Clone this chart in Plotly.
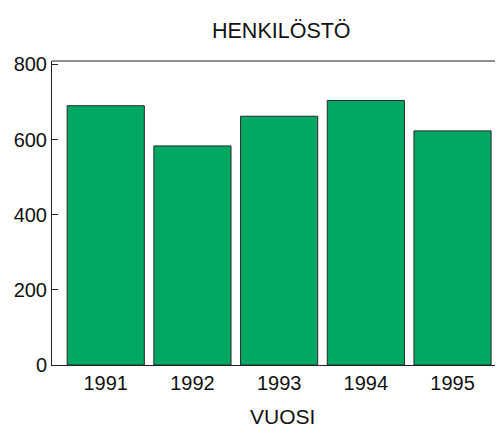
import plotly.graph_objects as go

years = ["1991", "1992", "1993", "1994", "1995"]
staff = [690, 583, 662, 704, 623]
y_ticks = [0, 200, 400, 600, 800]

fig = go.Figure()
fig.add_trace(go.Bar(
    x=list(range(len(years))), y=staff,
    marker=dict(color="#00A862", line=dict(color="#2a2a2a", width=1)),
    width=0.89,
))

font = "Liberation Sans, Arial, sans-serif"
L, R, T, B = 52, 1, 61, 63
W, H = 496, 428
plot_w = W - L - R

fig.update_layout(
    width=W, height=H,
    margin=dict(l=L, r=R, t=T, b=B),
    paper_bgcolor="white", plot_bgcolor="white",
    showlegend=False,
    font=dict(family=font, size=20, color="#111"),
    xaxis=dict(
        range=[-0.62, 4.49],
        tickmode="array", tickvals=list(range(len(years))), ticktext=years,
        showline=True, linecolor="#222", linewidth=1,
        ticks="", showgrid=False, zeroline=False,
        tickfont=dict(size=20),
    ),
    yaxis=dict(
        range=[0, 809],
        tickmode="array", tickvals=y_ticks, ticktext=[str(v) for v in y_ticks],
        showline=True, linecolor="#222", linewidth=1,
        ticks="inside", ticklen=6, tickcolor="#222",
        showgrid=False, zeroline=False,
        tickfont=dict(size=20),
    ),
    shapes=[dict(type="line", xref="paper", yref="paper", x0=0, x1=1, y0=1, y1=1,
                 line=dict(color="#222", width=1))],
    annotations=[
        dict(text="HENKILÖSTÖ", xref="paper", yref="paper",
             x=(281 - L) / plot_w, y=1, yshift=30, showarrow=False,
             xanchor="center", yanchor="middle", font=dict(size=21.5)),
        dict(text="VUOSI", xref="paper", yref="paper",
             x=(282 - L) / plot_w, y=0, yshift=-51, showarrow=False,
             xanchor="center", yanchor="middle", font=dict(size=21)),
    ],
)

fig.write_html("out.html", config={"displayModeBar": False},
               post_script="document.body.style.margin='0';document.body.style.overflow='hidden';")
